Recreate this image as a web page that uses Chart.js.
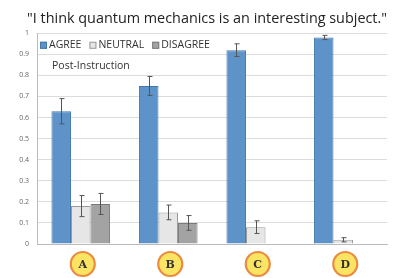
<!DOCTYPE html>
<html>
<head>
<meta charset="utf-8">
<script src="https://cdn.jsdelivr.net/npm/chart.js"></script>
<style>
  html, body { margin: 0; padding: 0; background: #fff; }
  #wrap { width: 395px; height: 278px; }
</style>
</head>
<body>
<div id="wrap"><canvas id="chart" width="395" height="278"></canvas></div>
<script>
// data
const groups = ['A', 'B', 'C', 'D'];
const agree = [0.63, 0.75, 0.92, 0.98];
const agreeErr = [0.06, 0.045, 0.03, 0.01];
const neutral = [0.18, 0.15, 0.08, 0.02];
const neutralErr = [0.05, 0.035, 0.03, 0.01];
const disagree = [0.19, 0.10, 0, 0];
const disagreeErr = [0.05, 0.035, 0, 0];

const errors = [agreeErr, neutralErr, disagreeErr];

// error bars drawn from the y scale
const errorBars = {
  id: 'errorBars',
  afterDatasetsDraw(chart) {
    const ctx = chart.ctx;
    const y = chart.scales.y;
    ctx.save();
    ctx.strokeStyle = '#555';
    ctx.lineWidth = 1;
    chart.data.datasets.forEach((ds, i) => {
      const meta = chart.getDatasetMeta(i);
      meta.data.forEach((bar, j) => {
        const err = errors[i][j];
        if (!err) return;
        const v = ds.data[j];
        const top = y.getPixelForValue(v + err);
        const bot = y.getPixelForValue(v - err);
        const x = Math.round(bar.x) + 0.5;
        ctx.beginPath();
        ctx.moveTo(x, top); ctx.lineTo(x, bot);
        ctx.moveTo(x - 2, top); ctx.lineTo(x + 3, top);
        ctx.moveTo(x - 2, bot); ctx.lineTo(x + 3, bot);
        ctx.stroke();
      });
    });
    ctx.restore();
  }
};

// legend in one row inside the plot, circled letters, "Post-Instruction"
const extras = {
  id: 'extras',
  afterDraw(chart) {
    const ctx = chart.ctx;
    const x = chart.scales.x;
    const area = chart.chartArea;
    ctx.save();

    ctx.font = '10.5px "Open Sans", sans-serif';
    ctx.textBaseline = 'middle';
    ctx.textAlign = 'left';
    let lx = area.left + 3;
    const ly = area.top + 12;
    chart.data.datasets.forEach(ds => {
      ctx.fillStyle = ds.backgroundColor;
      ctx.fillRect(lx, ly - 3.5, 7, 7);
      ctx.strokeStyle = ds.borderColor;
      ctx.lineWidth = 1;
      ctx.strokeRect(lx + 0.5, ly - 3, 6, 6);
      ctx.fillStyle = '#333';
      ctx.fillText(ds.label, lx + 9, ly);
      lx += 9 + ctx.measureText(ds.label).width + 8;
    });

    ctx.fillText('Post-Instruction', area.left + 15, area.top + 33);

    groups.forEach((g, i) => {
      const cx = x.getPixelForValue(i) + 2;
      const cy = area.bottom + 20;
      ctx.beginPath();
      ctx.arc(cx, cy, 12, 0, Math.PI * 2);
      ctx.fillStyle = '#fbe463';
      ctx.fill();
      ctx.lineWidth = 2.2;
      ctx.strokeStyle = '#e98c42';
      ctx.stroke();
      ctx.fillStyle = '#333';
      ctx.font = 'bold 11px "DejaVu Serif", serif';
      ctx.textAlign = 'center';
      ctx.fillText(g, cx, cy + 1);
    });
    ctx.restore();
  }
};

new Chart(document.getElementById('chart'), {
  type: 'bar',
  data: {
    labels: groups,
    datasets: [
      { label: 'AGREE', data: agree, backgroundColor: '#5d93c8', borderColor: '#4578a8', borderWidth: 1 },
      { label: 'NEUTRAL', data: neutral, backgroundColor: '#e6e6e6', borderColor: '#9a9a9a', borderWidth: 1 },
      { label: 'DISAGREE', data: disagree, backgroundColor: '#a3a3a3', borderColor: '#7a7a7a', borderWidth: 1 }
    ]
  },
  options: {
    responsive: false,
    animation: false,
    layout: { padding: { left: 0, right: 8, top: 0, bottom: 34 } },
    datasets: { bar: { barPercentage: 1, categoryPercentage: 0.67 } },
    plugins: {
      title: {
        display: true,
        align: 'end',
        text: '"I think quantum mechanics is an interesting subject."',
        color: '#222',
        font: { family: '"Open Sans", sans-serif', size: 14.4, weight: 'normal' },
        padding: { top: 10, bottom: 6 }
      },
      legend: { display: false },
      tooltip: { enabled: false }
    },
    scales: {
      x: {
        afterFit(s) { s.height = 0; },
        grid: { display: false },
        border: { color: '#bbb' },
        ticks: { display: false }
      },
      y: {
        min: 0, max: 1,
        afterFit(s) { s.width = 37; },
        grid: { color: '#dcdcdc', drawTicks: false },
        border: { color: '#bbb' },
        ticks: {
          stepSize: 0.1,
          padding: 8,
          color: '#666',
          font: { family: '"Open Sans", sans-serif', size: 7 },
          callback: v => (v === 0 || v === 1) ? String(v) : v.toFixed(1)
        }
      }
    }
  },
  plugins: [errorBars, extras]
});
</script>
</body>
</html>
